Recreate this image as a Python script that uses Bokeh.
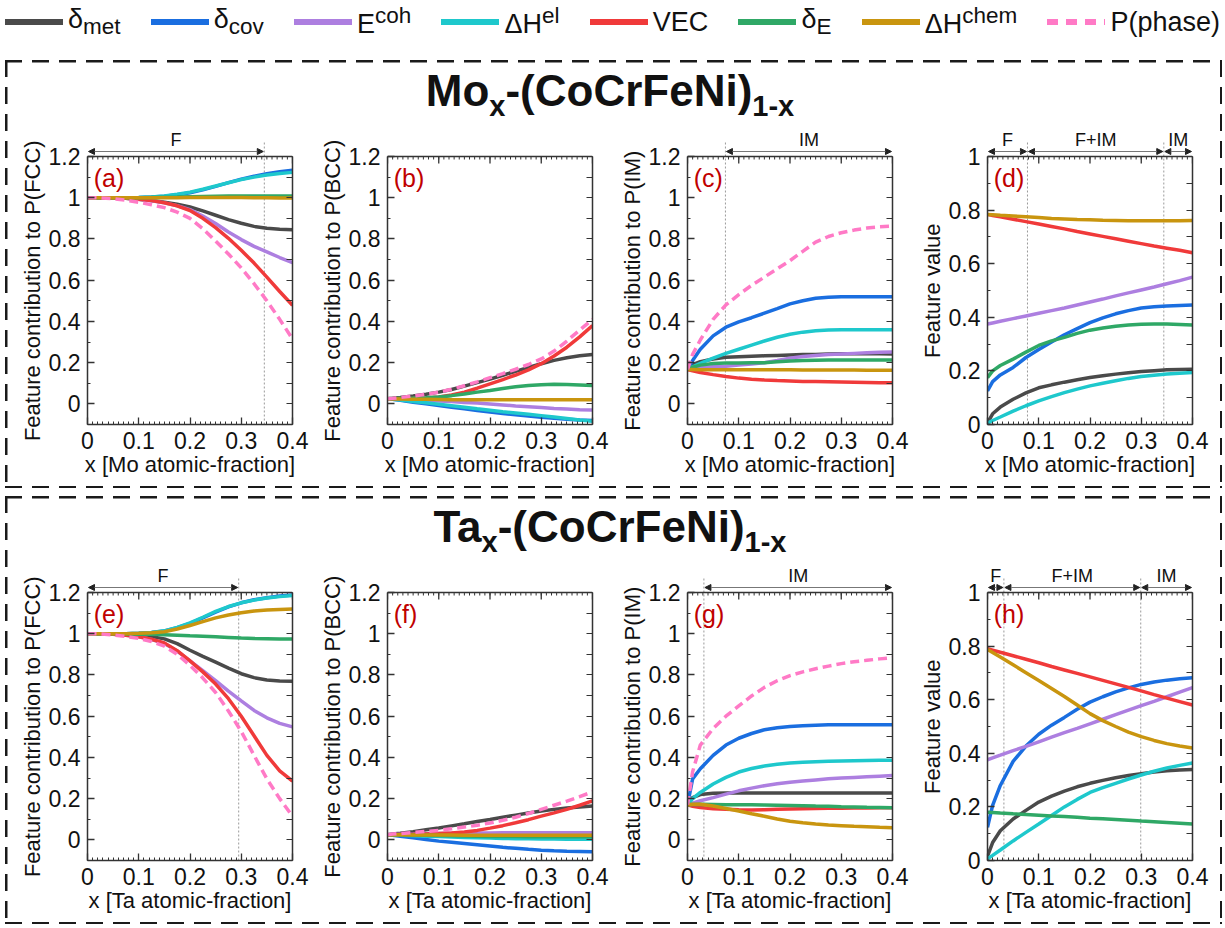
from bokeh.plotting import figure
from bokeh.layouts import row, column
from bokeh.models import (Range1d, FixedTicker, LinearAxis, NumeralTickFormatter,
                          Arrow, NormalHead, Label, Div, Spacer, Span)
from bokeh.embed import file_html
from bokeh.resources import INLINE

# ---------------- data ----------------
X = [0, 0.01, 0.025, 0.05, 0.075, 0.1, 0.125, 0.15, 0.175, 0.2, 0.225, 0.25, 0.275, 0.3, 0.325, 0.35, 0.375, 0.4]

LEGEND_HTML = ["δ<sub>met</sub>", "δ<sub>cov</sub>", "E<sup>coh</sup>", "ΔH<sup>el</sup>",
               "VEC", "δ<sub>E</sub>", "ΔH<sup>chem</sup>", "P(phase)"]
COLORS = ["#4a4a4a", "#1a6ee0", "#ad7fe0", "#1ec8cc", "#f03a3a", "#2fa866", "#c9950f", "#ff7ac6"]

# (a) Mo, P(FCC)
a_dmet = [1, 1, 1, 0.999, 0.997, 0.993, 0.987, 0.978, 0.968, 0.955, 0.936, 0.915, 0.894, 0.876, 0.861, 0.852, 0.847, 0.845]
a_dcov = [1, 1, 1, 1, 1, 1.001, 1.003, 1.007, 1.014, 1.024, 1.038, 1.055, 1.073, 1.09, 1.104, 1.116, 1.126, 1.133]
a_ecoh = [1, 1, 1, 0.999, 0.997, 0.992, 0.985, 0.975, 0.961, 0.942, 0.911, 0.875, 0.834, 0.797, 0.764, 0.737, 0.71, 0.685]
a_dhel = [1, 1, 1, 1, 1, 1.001, 1.004, 1.009, 1.017, 1.027, 1.041, 1.057, 1.073, 1.088, 1.1, 1.11, 1.118, 1.123]
a_vec = [1, 1, 1, 0.999, 0.997, 0.993, 0.986, 0.976, 0.961, 0.938, 0.9, 0.855, 0.803, 0.745, 0.683, 0.615, 0.545, 0.478]
a_de = [1, 1, 1, 1, 1, 1, 1.001, 1.002, 1.003, 1.005, 1.006, 1.007, 1.008, 1.008, 1.008, 1.008, 1.008, 1.008]
a_dhchem = [1, 1, 1, 1, 1, 1, 1, 1, 1, 1.001, 1.001, 1.001, 1.001, 1.001, 1.0, 1.0, 0.999, 0.999]
a_p = [1, 1, 0.999, 0.995, 0.988, 0.978, 0.966, 0.952, 0.93, 0.9, 0.85, 0.79, 0.727, 0.66, 0.583, 0.5, 0.41, 0.315]

# (b) Mo, P(BCC)
b_dmet = [0.025, 0.027, 0.031, 0.038, 0.047, 0.057, 0.07, 0.086, 0.103, 0.12, 0.139, 0.158, 0.177, 0.195, 0.211, 0.224, 0.233, 0.24]
b_dcov = [0.025, 0.022, 0.017, 0.008, 0.0, -0.008, -0.016, -0.024, -0.032, -0.04, -0.047, -0.053, -0.059, -0.065, -0.07, -0.075, -0.078, -0.08]
b_ecoh = [0.025, 0.025, 0.024, 0.022, 0.018, 0.014, 0.011, 0.007, 0.004, 0.0, -0.005, -0.01, -0.014, -0.018, -0.022, -0.025, -0.028, -0.03]
b_dhel = [0.025, 0.023, 0.019, 0.012, 0.005, -0.002, -0.009, -0.016, -0.024, -0.031, -0.038, -0.044, -0.05, -0.057, -0.064, -0.071, -0.078, -0.084]
b_vec = [0.025, 0.025, 0.026, 0.027, 0.029, 0.033, 0.043, 0.057, 0.076, 0.097, 0.118, 0.14, 0.165, 0.195, 0.232, 0.275, 0.325, 0.38]
b_de = [0.025, 0.026, 0.027, 0.028, 0.03, 0.033, 0.04, 0.048, 0.057, 0.065, 0.075, 0.083, 0.089, 0.093, 0.095, 0.094, 0.092, 0.089]
b_dhchem = [0.025, 0.025, 0.024, 0.023, 0.022, 0.021, 0.02, 0.02, 0.02, 0.02, 0.02, 0.02, 0.02, 0.02, 0.02, 0.02, 0.02, 0.02]
b_p = [0.025, 0.027, 0.031, 0.038, 0.047, 0.057, 0.071, 0.088, 0.107, 0.127, 0.147, 0.168, 0.191, 0.218, 0.256, 0.305, 0.358, 0.41]

# (c) Mo, P(IM)
c_dmet = [0.167, 0.19, 0.205, 0.218, 0.226, 0.229, 0.231, 0.233, 0.235, 0.237, 0.239, 0.24, 0.242, 0.243, 0.243, 0.243, 0.243, 0.242]
c_dcov = [0.167, 0.21, 0.265, 0.33, 0.372, 0.398, 0.418, 0.44, 0.462, 0.485, 0.5, 0.512, 0.517, 0.52, 0.52, 0.52, 0.52, 0.52]
c_ecoh = [0.167, 0.172, 0.176, 0.18, 0.183, 0.188, 0.193, 0.2, 0.21, 0.222, 0.23, 0.235, 0.239, 0.242, 0.245, 0.248, 0.25, 0.252]
c_dhel = [0.167, 0.18, 0.197, 0.222, 0.245, 0.265, 0.285, 0.305, 0.323, 0.338, 0.348, 0.355, 0.358, 0.36, 0.36, 0.36, 0.36, 0.36]
c_vec = [0.167, 0.16, 0.152, 0.142, 0.133, 0.125, 0.12, 0.116, 0.113, 0.111, 0.109, 0.108, 0.107, 0.106, 0.105, 0.104, 0.103, 0.103]
c_de = [0.167, 0.178, 0.188, 0.196, 0.198, 0.198, 0.199, 0.2, 0.204, 0.208, 0.21, 0.212, 0.213, 0.213, 0.213, 0.213, 0.213, 0.213]
c_dhchem = [0.167, 0.167, 0.166, 0.166, 0.166, 0.165, 0.165, 0.165, 0.165, 0.165, 0.164, 0.164, 0.164, 0.164, 0.164, 0.163, 0.163, 0.163]
c_p = [0.167, 0.24, 0.31, 0.41, 0.48, 0.53, 0.575, 0.615, 0.655, 0.695, 0.74, 0.785, 0.812, 0.83, 0.843, 0.853, 0.859, 0.862]

# (d) Mo, feature values
d_dmet = [0.006, 0.04, 0.065, 0.094, 0.118, 0.137, 0.148, 0.158, 0.167, 0.175, 0.182, 0.188, 0.193, 0.198, 0.201, 0.204, 0.205, 0.206]
d_dcov = [0.125, 0.16, 0.185, 0.213, 0.25, 0.28, 0.308, 0.335, 0.358, 0.38, 0.398, 0.413, 0.425, 0.435, 0.439, 0.442, 0.444, 0.446]
d_ecoh = [0.375, 0.379, 0.385, 0.395, 0.405, 0.415, 0.425, 0.435, 0.446, 0.457, 0.468, 0.48, 0.491, 0.502, 0.513, 0.525, 0.537, 0.55]
d_dhel = [0.005, 0.015, 0.028, 0.05, 0.07, 0.088, 0.104, 0.119, 0.132, 0.144, 0.154, 0.163, 0.172, 0.179, 0.184, 0.188, 0.191, 0.194]
d_vec = [0.784, 0.78, 0.775, 0.766, 0.757, 0.748, 0.739, 0.73, 0.72, 0.711, 0.702, 0.693, 0.684, 0.675, 0.666, 0.658, 0.65, 0.641]
d_de = [0.175, 0.2, 0.22, 0.244, 0.27, 0.295, 0.312, 0.325, 0.34, 0.352, 0.36, 0.367, 0.371, 0.374, 0.375, 0.375, 0.373, 0.371]
d_dhchem = [0.784, 0.783, 0.781, 0.778, 0.775, 0.772, 0.769, 0.767, 0.765, 0.764, 0.762, 0.761, 0.76, 0.76, 0.76, 0.76, 0.76, 0.761]

# (e) Ta, P(FCC)
e_dmet = [1, 1, 1, 0.999, 0.997, 0.993, 0.986, 0.975, 0.952, 0.92, 0.89, 0.862, 0.833, 0.806, 0.787, 0.776, 0.771, 0.77]
e_dcov = [1, 1, 1, 1, 1, 1.002, 1.006, 1.013, 1.029, 1.05, 1.077, 1.105, 1.13, 1.15, 1.165, 1.175, 1.183, 1.188]
e_ecoh = [1, 1, 1, 0.998, 0.993, 0.985, 0.972, 0.953, 0.916, 0.868, 0.821, 0.773, 0.722, 0.674, 0.628, 0.592, 0.565, 0.548]
e_dhel = [1, 1, 1, 1, 1, 1.002, 1.006, 1.014, 1.031, 1.053, 1.08, 1.108, 1.132, 1.15, 1.163, 1.173, 1.18, 1.185]
e_vec = [1, 1, 1, 0.998, 0.993, 0.985, 0.973, 0.955, 0.918, 0.868, 0.815, 0.756, 0.685, 0.6, 0.505, 0.41, 0.335, 0.285]
e_de = [1, 1, 1, 1, 0.999, 0.998, 0.997, 0.995, 0.993, 0.99, 0.988, 0.985, 0.982, 0.979, 0.977, 0.976, 0.975, 0.975]
e_dhchem = [1, 1, 1, 1, 1, 1.002, 1.005, 1.01, 1.023, 1.04, 1.059, 1.077, 1.091, 1.102, 1.11, 1.115, 1.118, 1.12]
e_p = [1, 1, 0.999, 0.994, 0.987, 0.977, 0.962, 0.94, 0.9, 0.847, 0.785, 0.715, 0.625, 0.526, 0.41, 0.296, 0.2, 0.115]

# (f) Ta, P(BCC)
f_dmet = [0.025, 0.028, 0.032, 0.04, 0.049, 0.058, 0.068, 0.078, 0.089, 0.099, 0.11, 0.12, 0.13, 0.14, 0.148, 0.155, 0.16, 0.164]
f_dcov = [0.025, 0.022, 0.018, 0.01, 0.002, -0.006, -0.012, -0.018, -0.024, -0.03, -0.036, -0.041, -0.046, -0.05, -0.053, -0.055, -0.056, -0.057]
f_ecoh = [0.025, 0.026, 0.027, 0.028, 0.03, 0.031, 0.032, 0.033, 0.034, 0.034, 0.035, 0.035, 0.035, 0.035, 0.035, 0.035, 0.035, 0.035]
f_dhel = [0.025, 0.024, 0.023, 0.02, 0.018, 0.016, 0.014, 0.012, 0.01, 0.009, 0.007, 0.006, 0.005, 0.004, 0.004, 0.003, 0.003, 0.003]
f_vec = [0.025, 0.025, 0.026, 0.027, 0.029, 0.031, 0.034, 0.038, 0.046, 0.057, 0.069, 0.083, 0.098, 0.115, 0.131, 0.148, 0.168, 0.189]
f_de = [0.025, 0.025, 0.024, 0.023, 0.022, 0.021, 0.02, 0.019, 0.018, 0.017, 0.016, 0.016, 0.015, 0.015, 0.015, 0.015, 0.015, 0.015]
f_dhchem = [0.025, 0.025, 0.025, 0.024, 0.024, 0.024, 0.024, 0.023, 0.023, 0.023, 0.023, 0.023, 0.022, 0.022, 0.022, 0.022, 0.022, 0.022]
f_p = [0.025, 0.028, 0.031, 0.036, 0.041, 0.046, 0.054, 0.062, 0.071, 0.082, 0.095, 0.11, 0.128, 0.148, 0.168, 0.188, 0.21, 0.233]

# (g) Ta, P(IM)
g_dmet = [0.17, 0.205, 0.22, 0.226, 0.227, 0.227, 0.227, 0.227, 0.227, 0.227, 0.227, 0.227, 0.227, 0.227, 0.227, 0.227, 0.227, 0.227]
g_dcov = [0.17, 0.296, 0.345, 0.41, 0.46, 0.493, 0.516, 0.534, 0.544, 0.55, 0.554, 0.556, 0.558, 0.559, 0.559, 0.559, 0.559, 0.559]
g_ecoh = [0.17, 0.178, 0.19, 0.205, 0.222, 0.238, 0.251, 0.263, 0.272, 0.28, 0.286, 0.291, 0.296, 0.3, 0.303, 0.306, 0.309, 0.312]
g_dhel = [0.17, 0.2, 0.23, 0.271, 0.303, 0.329, 0.346, 0.358, 0.367, 0.373, 0.376, 0.379, 0.381, 0.383, 0.384, 0.385, 0.386, 0.386]
g_vec = [0.17, 0.163, 0.157, 0.151, 0.148, 0.146, 0.145, 0.146, 0.148, 0.15, 0.151, 0.152, 0.153, 0.154, 0.155, 0.155, 0.156, 0.156]
g_de = [0.17, 0.172, 0.173, 0.172, 0.171, 0.17, 0.17, 0.169, 0.168, 0.167, 0.166, 0.164, 0.163, 0.161, 0.16, 0.158, 0.157, 0.156]
g_dhchem = [0.17, 0.173, 0.173, 0.164, 0.152, 0.14, 0.127, 0.115, 0.101, 0.09, 0.083, 0.077, 0.072, 0.069, 0.066, 0.064, 0.061, 0.059]
g_p = [0.17, 0.33, 0.46, 0.54, 0.6, 0.65, 0.698, 0.74, 0.772, 0.797, 0.815, 0.83, 0.843, 0.855, 0.864, 0.871, 0.878, 0.884]

# (h) Ta, feature values
h_dmet = [0.016, 0.067, 0.111, 0.155, 0.187, 0.218, 0.24, 0.259, 0.275, 0.288, 0.299, 0.309, 0.317, 0.324, 0.33, 0.335, 0.338, 0.34]
h_dcov = [0.124, 0.206, 0.28, 0.37, 0.427, 0.471, 0.505, 0.534, 0.564, 0.591, 0.611, 0.629, 0.644, 0.657, 0.666, 0.673, 0.678, 0.682]
h_ecoh = [0.376, 0.383, 0.393, 0.41, 0.426, 0.443, 0.46, 0.477, 0.493, 0.51, 0.527, 0.544, 0.561, 0.578, 0.594, 0.611, 0.628, 0.645]
h_dhel = [0.006, 0.019, 0.039, 0.073, 0.105, 0.136, 0.168, 0.2, 0.228, 0.254, 0.272, 0.288, 0.304, 0.319, 0.333, 0.345, 0.355, 0.364]
h_vec = [0.79, 0.785, 0.777, 0.764, 0.751, 0.738, 0.724, 0.711, 0.698, 0.685, 0.672, 0.659, 0.646, 0.633, 0.619, 0.606, 0.593, 0.58]
h_de = [0.18, 0.179, 0.177, 0.174, 0.172, 0.169, 0.166, 0.164, 0.161, 0.158, 0.156, 0.153, 0.15, 0.147, 0.145, 0.142, 0.139, 0.136]
h_dhchem = [0.787, 0.776, 0.759, 0.73, 0.701, 0.672, 0.642, 0.612, 0.58, 0.548, 0.522, 0.5, 0.479, 0.462, 0.448, 0.436, 0.427, 0.42]

# phase regions (label, start, end) and dividers
a_regions = [("F", 0.0, 0.345)]
a_dividers = [0.345]
c_regions = [("IM", 0.074, 0.4)]
c_dividers = [0.074]
d_regions = [("F", 0.0, 0.078), ("F+IM", 0.078, 0.344), ("IM", 0.344, 0.4)]
d_dividers = [0.078, 0.344]
e_regions = [("F", 0.0, 0.295)]
e_dividers = [0.295]
g_regions = [("IM", 0.032, 0.4)]
g_dividers = [0.032]
h_regions = [("F", 0.0, 0.032), ("F+IM", 0.032, 0.299), ("IM", 0.299, 0.4)]
h_dividers = [0.032, 0.299]

XTICKS = [0, 0.1, 0.2, 0.3, 0.4]
XMINOR = [round(i * 0.01, 2) for i in range(41)]
YTICKS_P = [0, 0.2, 0.4, 0.6, 0.8, 1.0, 1.2]
YMINOR_P = [-0.1, 0.1, 0.3, 0.5, 0.7, 0.9, 1.1]
YTICKS_F = [0, 0.2, 0.4, 0.6, 0.8, 1.0]
YMINOR_F = [0.1, 0.3, 0.5, 0.7, 0.9]

FONT = "Liberation Sans"
BOX_H = 268          # visible plot box height (px)
EXT = 24             # annotation strip above the box, inside the frame (px)
TOP = 16
BOTTOM = 60
FIG_W = 300
FIG_H = TOP + BOX_H + EXT + BOTTOM
NBSP = "\u00a0" * 4
EDGE = "#333333"


def style_axis(ax, ticker):
    ax.ticker = ticker
    ax.formatter = NumeralTickFormatter(format="0.[0]")
    ax.major_tick_in = 7
    ax.major_tick_out = 0
    ax.minor_tick_in = 3
    ax.minor_tick_out = 0
    ax.axis_line_color = EDGE
    ax.axis_line_width = 1.5
    ax.major_tick_line_color = EDGE
    ax.minor_tick_line_color = EDGE
    ax.major_tick_line_width = 1.3
    ax.minor_tick_line_width = 1
    ax.major_label_text_font = FONT
    ax.major_label_text_color = "#111111"
    ax.major_label_text_font_size = "23px"
    ax.major_label_standoff = 7
    ax.axis_label_text_font = FONT
    ax.axis_label_text_font_style = "normal"
    ax.axis_label_text_font_size = "22px"
    ax.axis_label_text_color = "#111111"


def panel(series, ylabel, xlabel, letter, feature_value, regions, dividers):
    if feature_value:
        ymin, ymax, yt, ym = 0.0, 1.0, YTICKS_F, YMINOR_F
    else:
        ymin, ymax, yt, ym = -0.1, 1.2, YTICKS_P, YMINOR_P
    k = (ymax - ymin) / BOX_H
    p = figure(width=FIG_W, height=FIG_H, x_range=Range1d(0, 0.4),
               y_range=Range1d(ymin, ymax + EXT * k),
               output_backend="svg", toolbar_location=None,
               min_border_left=77, min_border_right=18, min_border_top=TOP, min_border_bottom=BOTTOM,
               x_axis_label=xlabel, y_axis_label=ylabel + NBSP)
    p.grid.visible = False
    p.outline_line_color = None
    p.background_fill_color = "white"
    p.border_fill_color = None
    style_axis(p.below[0], FixedTicker(ticks=XTICKS, minor_ticks=XMINOR))
    style_axis(p.left[0], FixedTicker(ticks=yt, minor_ticks=ym))
    p.left[0].bounds = (ymin, ymax)
    p.below[0].axis_label_standoff = 0
    p.left[0].axis_label_standoff = 1

    # right edge (ticks only, no labels)
    right = LinearAxis(ticker=FixedTicker(ticks=[], minor_ticks=sorted(yt + ym)), bounds=(ymin, ymax))
    right.axis_line_color = EDGE
    right.axis_line_width = 1.5
    right.minor_tick_in = 6
    right.minor_tick_out = 0
    right.minor_tick_line_color = EDGE
    right.minor_tick_line_width = 1.2
    p.add_layout(right, "right")

    # top edge with inward ticks
    p.add_layout(Span(location=ymax, dimension="width", line_color=EDGE, line_width=1.5))
    p.segment(x0=XMINOR, y0=[ymax] * len(XMINOR), x1=XMINOR, y1=[ymax - 3 * k] * len(XMINOR),
              line_color=EDGE, line_width=1)
    p.segment(x0=XTICKS, y0=[ymax] * len(XTICKS), x1=XTICKS, y1=[ymax - 7 * k] * len(XTICKS),
              line_color=EDGE, line_width=1.3)

    # phase boundaries
    if dividers:
        p.segment(x0=dividers, y0=[ymin] * len(dividers), x1=dividers,
                  y1=[ymax + 14 * k] * len(dividers),
                  line_color="#9a9a9a", line_width=1, line_dash="2 2")

    for i, (ys, col) in enumerate(zip(series, COLORS)):
        if ys is None:
            continue
        if i == 7:
            p.line(X, ys, line_color=col, line_width=3.5, line_dash="9 5")
        else:
            p.line(X, ys, line_color=col, line_width=3.5)

    for name, x0, x1 in regions:
        p.add_layout(Arrow(start=NormalHead(size=6, fill_color="#222222", line_color="#222222", line_width=1),
                           end=NormalHead(size=6, fill_color="#222222", line_color="#222222", line_width=1),
                           x_start=x0 + 0.002, y_start=ymax + 5 * k, x_end=x1 - 0.002, y_end=ymax + 5 * k,
                           line_color="#777777", line_width=1))
        p.add_layout(Label(x=(x0 + x1) / 2, y=ymax + 7 * k, text=name, text_align="center",
                           text_baseline="bottom", text_font=FONT, text_font_size="18px",
                           text_color="#111111"))
    p.add_layout(Label(x=0.012, y=ymax - 7 * k, text=letter, text_baseline="top", text_align="left",
                       text_font=FONT, text_font_size="25px", text_color="#c00000"))
    return p


YL_FCC = "Feature contribution to P(FCC)"
YL_BCC = "Feature contribution to P(BCC)"
YL_IM = "Feature contribution to P(IM)"
YL_FV = "Feature value"
XL_MO = "x [Mo atomic-fraction]"
XL_TA = "x [Ta atomic-fraction]"

pa = panel([a_dmet, a_dcov, a_ecoh, a_dhel, a_vec, a_de, a_dhchem, a_p], YL_FCC, XL_MO, "(a)", False, a_regions, a_dividers)
pb = panel([b_dmet, b_dcov, b_ecoh, b_dhel, b_vec, b_de, b_dhchem, b_p], YL_BCC, XL_MO, "(b)", False, [], [])
pc = panel([c_dmet, c_dcov, c_ecoh, c_dhel, c_vec, c_de, c_dhchem, c_p], YL_IM, XL_MO, "(c)", False, c_regions, c_dividers)
pd_ = panel([d_dmet, d_dcov, d_ecoh, d_dhel, d_vec, d_de, d_dhchem, None], YL_FV, XL_MO, "(d)", True, d_regions, d_dividers)
pe = panel([e_dmet, e_dcov, e_ecoh, e_dhel, e_vec, e_de, e_dhchem, e_p], YL_FCC, XL_TA, "(e)", False, e_regions, e_dividers)
pf = panel([f_dmet, f_dcov, f_ecoh, f_dhel, f_vec, f_de, f_dhchem, f_p], YL_BCC, XL_TA, "(f)", False, [], [])
pg = panel([g_dmet, g_dcov, g_ecoh, g_dhel, g_vec, g_de, g_dhchem, g_p], YL_IM, XL_TA, "(g)", False, g_regions, g_dividers)
ph = panel([h_dmet, h_dcov, h_ecoh, h_dhel, h_vec, h_de, h_dhchem, None], YL_FV, XL_TA, "(h)", True, h_regions, h_dividers)

# legend
items = []
for i, (lab, col) in enumerate(zip(LEGEND_HTML, COLORS)):
    if i == 7:
        bg = f"repeating-linear-gradient(90deg,{col} 0 11px,transparent 11px 19px)"
    else:
        bg = col
    items.append(
        '<div style="display:flex;align-items:center;white-space:nowrap;">'
        f'<span style="display:inline-block;width:58px;height:6px;background:{bg};margin-right:5px;"></span>'
        f'<span>{lab}</span></div>')
legend_html = ('<div style="display:flex;justify-content:space-between;align-items:center;width:1215px;'
               f'margin-left:5px;height:44px;font-family:\'{FONT}\';font-size:27px;color:#111;">'
               + "".join(items) + '</div>')
legend = Div(text=legend_html, width=1222, height=60, margin=(0, 0, 0, 0))

TITLE_MO = "Mo<sub style='font-size:29px'>x</sub>-(CoCrFeNi)<sub style='font-size:29px'>1-x</sub>"
TITLE_TA = "Ta<sub style='font-size:29px'>x</sub>-(CoCrFeNi)<sub style='font-size:29px'>1-x</sub>"


def title_div(html):
    return Div(text=(f'<div style="width:1200px;text-align:center;font-family:\'{FONT}\';font-weight:bold;'
                     f'font-size:44px;line-height:54px;color:#111;">{html}</div>'),
               width=1200, height=52, margin=(0, 0, 0, 0))


dash = "#1a1a1a 0 17px,transparent 17px 27px"
box_styles = {
    "padding": "4px 12px 4px 5px",
    "background": (f"repeating-linear-gradient(90deg,{dash}) top left/100% 2.5px no-repeat,"
                   f"repeating-linear-gradient(90deg,{dash}) bottom left/100% 2.5px no-repeat,"
                   f"repeating-linear-gradient(180deg,{dash}) top left/2.5px 100% no-repeat,"
                   f"repeating-linear-gradient(180deg,{dash}) top right/2.5px 100% no-repeat"),
}

box1 = column(title_div(TITLE_MO), row(pa, pb, pc, pd_), styles=dict(box_styles))
box2 = column(title_div(TITLE_TA), row(pe, pf, pg, ph), styles=dict(box_styles))

layout = column(legend,
                row(Spacer(width=5), box1),
                Spacer(height=8),
                row(Spacer(width=5), box2))

open("out.html", "w").write(file_html(layout, INLINE))
